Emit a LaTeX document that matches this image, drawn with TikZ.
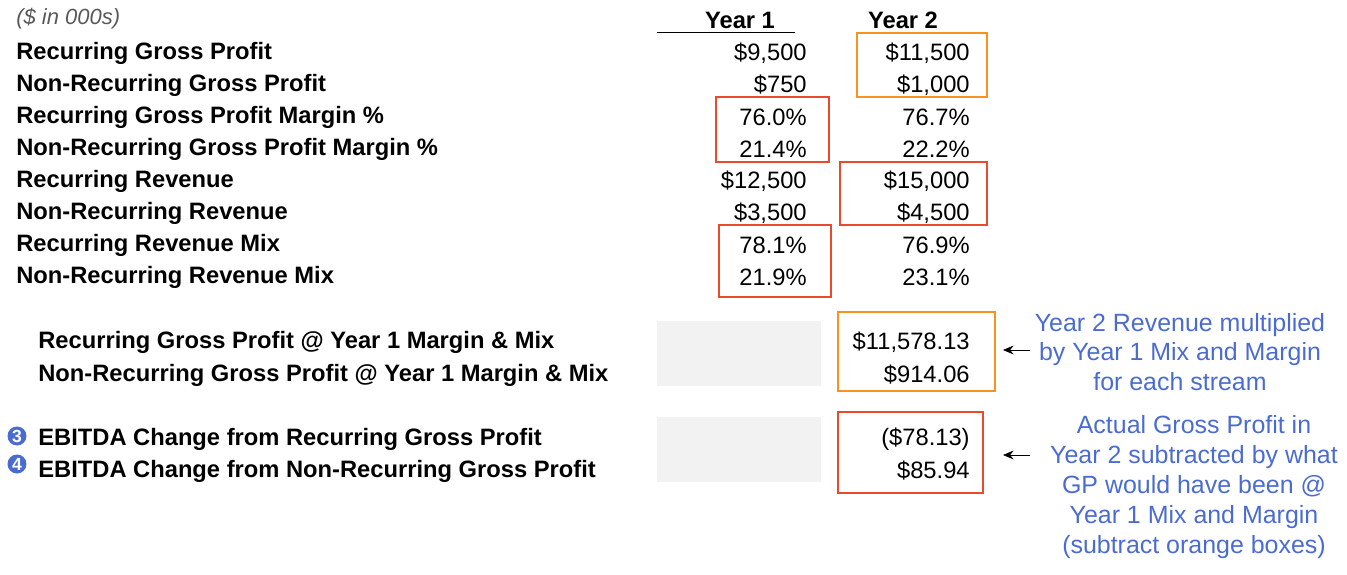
\documentclass[tikz,border=0pt]{standalone}
\usepackage{fontspec}
\setmainfont{Liberation Sans}
\usetikzlibrary{arrows.meta}
\definecolor{boxorange}{HTML}{F7931E}
\definecolor{boxred}{HTML}{EA4A2C}
\definecolor{notecolor}{HTML}{4A6CD0}
\definecolor{greyfill}{HTML}{F2F2F2}
\tikzset{
  lbl/.style={anchor=west, font=\fontsize{13.5pt}{14pt}\selectfont\bfseries, inner sep=0},
  val/.style={anchor=east, font=\fontsize{13.5pt}{14pt}\selectfont, inner sep=0},
  note/.style={align=center, text=notecolor, font=\fontsize{14.2pt}{17pt}\selectfont, inner sep=0},
  obox/.style={draw=boxorange, line width=1.4pt},
  rbox/.style={draw=boxred, line width=1.4pt},
  num/.style={circle, fill=notecolor, text=white, inner sep=0, minimum size=0.38cm, font=\fontsize{10pt}{10pt}\selectfont\bfseries}
}
\begin{document}
\begin{tikzpicture}[x=0.02cm, y=-0.02cm]
\useasboundingbox (0,0) rectangle (1347,575);
\node[anchor=west, font=\fontsize{12.5pt}{13pt}\selectfont\itshape, text=gray!70!black, inner sep=0] (unit) at (16,19) {(\$ in 000s)};
\node[font=\fontsize{13.5pt}{14pt}\selectfont\bfseries, inner sep=0] (y1) at (740,20) {Year 1};
\node[font=\fontsize{13.5pt}{14pt}\selectfont\bfseries, inner sep=0] (y2) at (903,20) {Year 2};
\draw (657,32) -- (795,32);
% table rows
\foreach \yy/\name/\a/\b in {
  53/Recurring Gross Profit/\$9{,}500/\$11{,}500,
  85/Non-Recurring Gross Profit/\$750/\$1{,}000,
  117/Recurring Gross Profit Margin \%/76.0\%/76.7\%,
  149/Non-Recurring Gross Profit Margin \%/21.4\%/22.2\%,
  181/Recurring Revenue/\$12{,}500/\$15{,}000,
  213/Non-Recurring Revenue/\$3{,}500/\$4{,}500,
  245/Recurring Revenue Mix/78.1\%/76.9\%,
  277/Non-Recurring Revenue Mix/21.9\%/23.1\%}{
  \node[lbl] at (16,\yy) {\name};
  \node[val] at (807,\yy) {\a};
  \node[val] at (970,\yy) {\b};
}
% boxes
\draw[obox] (857,33) rectangle (987,97);
\draw[rbox] (716,97) rectangle (829,162);
\draw[rbox] (840,162) rectangle (987,225);
\draw[rbox] (719,225) rectangle (831,297);
% lower part
\fill[greyfill] (657,321) rectangle (821,386);
\fill[greyfill] (657,417) rectangle (821,482);
\node[lbl] (rgp) at (38,342) {Recurring Gross Profit @ Year 1 Margin \& Mix};
\node[lbl] (ngp) at (38,375) {Non-Recurring Gross Profit @ Year 1 Margin \& Mix};
\node[val] (rgpv) at (970,342) {\$11{,}578.13};
\node[val] (ngpv) at (970,375) {\$914.06};
\draw[obox] (838,312) rectangle (995,391);
\node[num] (n3) at (17,436) {3};
\node[num] (n4) at (17,464) {4};
\node[lbl] (ch1) at (38,439) {EBITDA Change from Recurring Gross Profit};
\node[lbl] (ch2) at (38,471) {EBITDA Change from Non-Recurring Gross Profit};
\node[val] (ch1v) at (970,439) {(\$78.13)};
\node[val] (ch2v) at (970,471) {\$85.94};
\draw[rbox] (838,412) rectangle (983,493);
% notes
\node[note] (note1) at (1180,352) {Year 2 Revenue multiplied\\by Year 1 Mix and Margin\\for each stream};
\node[note] (note2) at (1194,487) {Actual Gross Profit in\\Year 2 subtracted by what\\GP would have been @\\Year 1 Mix and Margin\\(subtract orange boxes)};
\coordinate (a1) at (1030,350);
\coordinate (a2) at (1030,455);
\draw[-{Stealth[length=6pt,width=5pt]}] (a1) -- ++(-27,0);
\draw[-{Stealth[length=6pt,width=5pt]}] (a2) -- ++(-27,0);
\end{tikzpicture}
\end{document}
